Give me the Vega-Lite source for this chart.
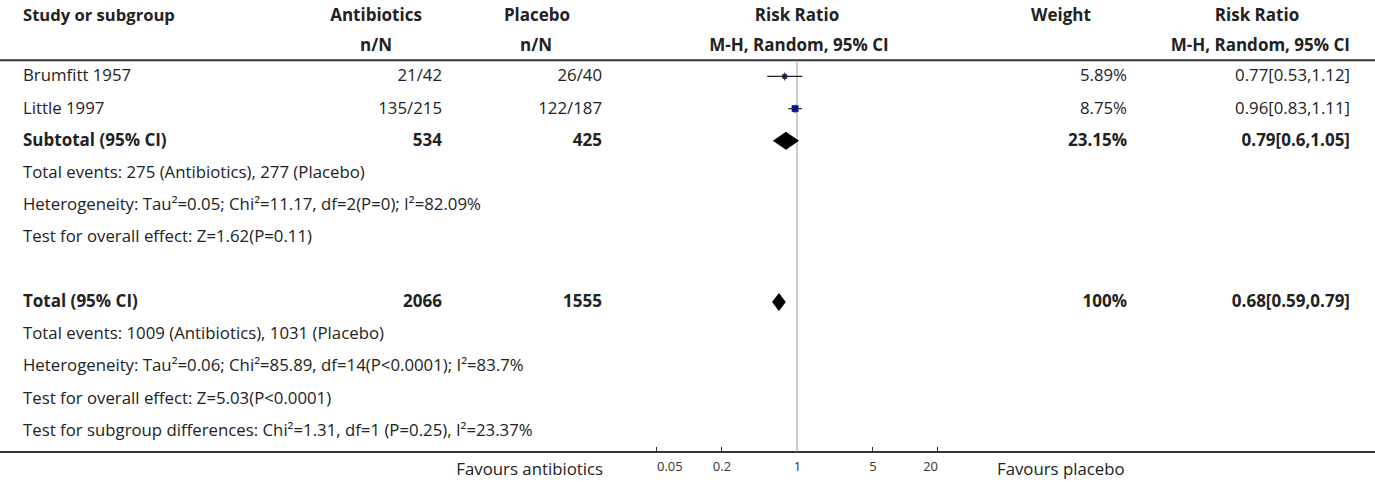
{
  "$schema": "https://vega.github.io/schema/vega-lite/v6.json",
  "width": 1375,
  "height": 452,
  "autosize": {"type": "none"},
  "padding": {"left": 0, "top": 0, "right": 0, "bottom": 30},
  "background": "white",
  "config": {
    "view": {"stroke": null},
    "text": {"font": "Open Sans", "fontSize": 16.8, "color": "#222", "baseline": "middle"}
  },
  "datasets": {
    "table": [
      {"row": 0, "col": 0, "kind": "head", "text": "Study or subgroup"},
      {"row": 0, "col": 1, "kind": "head", "text": "Antibiotics"},
      {"row": 0, "col": 2, "kind": "head", "text": "Placebo"},
      {"row": 0, "col": 3, "kind": "head", "text": "Risk Ratio"},
      {"row": 0, "col": 4, "kind": "head", "text": "Weight"},
      {"row": 0, "col": 5, "kind": "head", "text": "Risk Ratio"},
      {"row": 1, "col": 1, "kind": "sub", "text": "n/N"},
      {"row": 1, "col": 2, "kind": "sub", "text": "n/N"},
      {"row": 1, "col": 3, "kind": "sub", "text": "M-H, Random, 95% CI"},
      {"row": 1, "col": 5, "kind": "sub", "text": "M-H, Random, 95% CI"},
      {"row": 2, "col": 0, "kind": "study", "text": "Brumfitt 1957"},
      {"row": 2, "col": 1, "kind": "study", "text": "21/42"},
      {"row": 2, "col": 2, "kind": "study", "text": "26/40"},
      {"row": 2, "col": 4, "kind": "study", "text": "5.89%"},
      {"row": 2, "col": 5, "kind": "study", "text": "0.77[0.53,1.12]"},
      {"row": 3, "col": 0, "kind": "study", "text": "Little 1997"},
      {"row": 3, "col": 1, "kind": "study", "text": "135/215"},
      {"row": 3, "col": 2, "kind": "study", "text": "122/187"},
      {"row": 3, "col": 4, "kind": "study", "text": "8.75%"},
      {"row": 3, "col": 5, "kind": "study", "text": "0.96[0.83,1.11]"},
      {"row": 4, "col": 0, "kind": "pooled", "text": "Subtotal (95% CI)"},
      {"row": 4, "col": 1, "kind": "pooled", "text": "534"},
      {"row": 4, "col": 2, "kind": "pooled", "text": "425"},
      {"row": 4, "col": 4, "kind": "pooled", "text": "23.15%"},
      {"row": 4, "col": 5, "kind": "pooled", "text": "0.79[0.6,1.05]"},
      {"row": 5, "col": 0, "kind": "note", "text": "Total events: 275 (Antibiotics), 277 (Placebo)"},
      {"row": 6, "col": 0, "kind": "note", "text": "Heterogeneity: Tau²=0.05; Chi²=11.17, df=2(P=0); I²=82.09%"},
      {"row": 7, "col": 0, "kind": "note", "text": "Test for overall effect: Z=1.62(P=0.11)"},
      {"row": 9, "col": 0, "kind": "pooled", "text": "Total (95% CI)"},
      {"row": 9, "col": 1, "kind": "pooled", "text": "2066"},
      {"row": 9, "col": 2, "kind": "pooled", "text": "1555"},
      {"row": 9, "col": 4, "kind": "pooled", "text": "100%"},
      {"row": 9, "col": 5, "kind": "pooled", "text": "0.68[0.59,0.79]"},
      {"row": 10, "col": 0, "kind": "note", "text": "Total events: 1009 (Antibiotics), 1031 (Placebo)"},
      {"row": 11, "col": 0, "kind": "note", "text": "Heterogeneity: Tau²=0.06; Chi²=85.89, df=14(P<0.0001); I²=83.7%"},
      {"row": 12, "col": 0, "kind": "note", "text": "Test for overall effect: Z=5.03(P<0.0001)"},
      {"row": 13, "col": 0, "kind": "note", "text": "Test for subgroup differences: Chi²=1.31, df=1 (P=0.25), I²=23.37%"},
      {"row": 14, "col": 1, "kind": "favours", "text": "Favours antibiotics"},
      {"row": 14, "col": 2, "kind": "favours", "text": "Favours placebo"}
    ],
    "studies": [
      {"row": 2, "study": "Brumfitt 1957", "rr": 0.77, "lo": 0.53, "hi": 1.12, "w": 5.89},
      {"row": 3, "study": "Little 1997", "rr": 0.96, "lo": 0.83, "hi": 1.11, "w": 8.75}
    ],
    "pooled": [
      {"row": 4, "kind": "subtotal", "rr": 0.79, "lo": 0.6, "hi": 1.05},
      {"row": 9, "kind": "total", "rr": 0.68, "lo": 0.59, "hi": 0.79}
    ],
    "ticks": [{"v": 0.05}, {"v": 0.2}, {"v": 5}, {"v": 20}]
  },
  "resolve": {"scale": {"x": "independent"}},
  "layer": [
    {
      "data": {"values": [{}]},
      "layer": [
        {"mark": {"type": "rule", "color": "#333", "strokeWidth": 2},
         "encoding": {"y": {"datum": 1.5, "type": "quantitative", "scale": {"domain": [-0.3727, 13.66], "reverse": true, "nice": false, "zero": false}, "axis": null}}},
        {"mark": {"type": "rule", "color": "#333", "strokeWidth": 2},
         "encoding": {"y": {"datum": 13.66, "type": "quantitative", "scale": {"domain": [-0.3727, 13.66], "reverse": true, "nice": false, "zero": false}, "axis": null}}}
      ]
    },
    {
      "data": {"name": "table"},
      "transform": [{"filter": "datum.col == 0 && (datum.kind == 'study' || datum.kind == 'note')"}],
      "mark": {"type": "text", "align": "left"},
      "encoding": {
        "x": {"field": "col", "type": "quantitative", "scale": {"domain": [0, 1], "range": [23, 1375], "nice": false, "zero": false}, "axis": null},
        "y": {"field": "row", "type": "quantitative", "scale": {"domain": [-0.3727, 13.66], "reverse": true, "nice": false, "zero": false}, "axis": null},
        "text": {"field": "text"}
      }
    },
    {
      "data": {"name": "table"},
      "transform": [{"filter": "datum.col == 0 && datum.kind == 'pooled'"}],
      "mark": {"type": "text", "align": "left", "fontWeight": "bold", "fontSize": 17},
      "encoding": {
        "x": {"field": "col", "type": "quantitative", "scale": {"domain": [0, 1], "range": [23, 1375], "nice": false, "zero": false}, "axis": null},
        "y": {"field": "row", "type": "quantitative", "scale": {"domain": [-0.3727, 13.66], "reverse": true, "nice": false, "zero": false}, "axis": null},
        "text": {"field": "text"}
      }
    },
    {
      "data": {"name": "table"},
      "transform": [{"filter": "datum.col == 0 && datum.kind == 'head'"}],
      "mark": {"type": "text", "align": "left", "fontWeight": "bold", "fontSize": 16.6, "dy": 4},
      "encoding": {
        "x": {"field": "col", "type": "quantitative", "scale": {"domain": [0, 1], "range": [23, 1375], "nice": false, "zero": false}, "axis": null},
        "y": {"field": "row", "type": "quantitative", "scale": {"domain": [-0.3727, 13.66], "reverse": true, "nice": false, "zero": false}, "axis": null},
        "text": {"field": "text"}
      }
    },
    {
      "data": {"name": "table"},
      "transform": [{"filter": "datum.col > 0 && datum.kind == 'study'"}],
      "mark": {"type": "text", "align": "right"},
      "encoding": {
        "x": {"field": "col", "type": "quantitative", "scale": {"domain": [1, 2, 4, 5], "range": [442, 602, 1127, 1350], "nice": false, "zero": false}, "axis": null},
        "y": {"field": "row", "type": "quantitative", "scale": {"domain": [-0.3727, 13.66], "reverse": true, "nice": false, "zero": false}, "axis": null},
        "text": {"field": "text"}
      }
    },
    {
      "data": {"name": "table"},
      "transform": [{"filter": "datum.col > 0 && datum.kind == 'pooled'"}],
      "mark": {"type": "text", "align": "right", "fontWeight": "bold", "fontSize": 17},
      "encoding": {
        "x": {"field": "col", "type": "quantitative", "scale": {"domain": [1, 2, 4, 5], "range": [442, 602, 1127, 1350], "nice": false, "zero": false}, "axis": null},
        "y": {"field": "row", "type": "quantitative", "scale": {"domain": [-0.3727, 13.66], "reverse": true, "nice": false, "zero": false}, "axis": null},
        "text": {"field": "text"}
      }
    },
    {
      "data": {"name": "table"},
      "transform": [{"filter": "datum.col > 0 && datum.kind == 'head'"}],
      "mark": {"type": "text", "align": "center", "fontWeight": "bold", "fontSize": 17, "dy": 4},
      "encoding": {
        "x": {"field": "col", "type": "quantitative", "scale": {"domain": [1, 2, 3, 4, 5], "range": [376, 537, 797, 1061, 1257], "nice": false, "zero": false}, "axis": null},
        "y": {"field": "row", "type": "quantitative", "scale": {"domain": [-0.3727, 13.66], "reverse": true, "nice": false, "zero": false}, "axis": null},
        "text": {"field": "text"}
      }
    },
    {
      "data": {"name": "table"},
      "transform": [{"filter": "datum.col < 5 && datum.kind == 'sub'"}],
      "mark": {"type": "text", "align": "center", "fontWeight": "bold", "fontSize": 17, "dy": 2},
      "encoding": {
        "x": {"field": "col", "type": "quantitative", "scale": {"domain": [1, 2, 3], "range": [376, 536, 799], "nice": false, "zero": false}, "axis": null},
        "y": {"field": "row", "type": "quantitative", "scale": {"domain": [-0.3727, 13.66], "reverse": true, "nice": false, "zero": false}, "axis": null},
        "text": {"field": "text"}
      }
    },
    {
      "data": {"name": "table"},
      "transform": [{"filter": "datum.col == 5 && datum.kind == 'sub'"}],
      "mark": {"type": "text", "align": "right", "fontWeight": "bold", "fontSize": 17, "dy": 2},
      "encoding": {
        "x": {"field": "col", "type": "quantitative", "scale": {"domain": [5, 6], "range": [1350, 1400], "nice": false, "zero": false}, "axis": null},
        "y": {"field": "row", "type": "quantitative", "scale": {"domain": [-0.3727, 13.66], "reverse": true, "nice": false, "zero": false}, "axis": null},
        "text": {"field": "text"}
      }
    },
    {
      "data": {"name": "table"},
      "transform": [{"filter": "datum.col == 1 && datum.kind == 'favours'"}],
      "mark": {"type": "text", "align": "right", "dy": 7},
      "encoding": {
        "x": {"field": "col", "type": "quantitative", "scale": {"domain": [1, 2], "range": [603, 700], "nice": false, "zero": false}, "axis": null},
        "y": {"field": "row", "type": "quantitative", "scale": {"domain": [-0.3727, 13.66], "reverse": true, "nice": false, "zero": false}, "axis": null},
        "text": {"field": "text"}
      }
    },
    {
      "data": {"name": "table"},
      "transform": [{"filter": "datum.col == 2 && datum.kind == 'favours'"}],
      "mark": {"type": "text", "align": "left", "dy": 7},
      "encoding": {
        "x": {"field": "col", "type": "quantitative", "scale": {"domain": [2, 3], "range": [997, 1100], "nice": false, "zero": false}, "axis": null},
        "y": {"field": "row", "type": "quantitative", "scale": {"domain": [-0.3727, 13.66], "reverse": true, "nice": false, "zero": false}, "axis": null},
        "text": {"field": "text"}
      }
    },
    {
      "layer": [
        {
          "data": {"values": [{}]},
          "mark": {"type": "rule", "color": "#999", "strokeWidth": 1},
          "encoding": {
            "x": {"datum": 1, "type": "quantitative", "scale": {"type": "log", "domain": [4.1729e-8, 224780], "nice": false},
                  "axis": {"values": [0.05, 0.2, 1, 5, 20], "format": "~g", "domain": false, "ticks": false, "grid": false, "title": null, "labelFont": "Open Sans", "labelFontSize": 13, "labelColor": "#333", "labelPadding": 8,
                           "labelAlign": {"expr": "datum.value <= 0.05 ? 'left' : datum.value >= 20 ? 'right' : 'center'"}}},
            "y": {"datum": 1.5, "type": "quantitative", "scale": {"domain": [-0.3727, 13.66], "reverse": true, "nice": false, "zero": false}, "axis": null},
            "y2": {"datum": 13.66}
          }
        },
        {
          "data": {"name": "ticks"},
          "mark": {"type": "rule", "color": "#333", "strokeWidth": 1},
          "encoding": {
            "x": {"field": "v", "type": "quantitative"},
            "y": {"datum": 13.66, "type": "quantitative", "scale": {"domain": [-0.3727, 13.66], "reverse": true, "nice": false, "zero": false}, "axis": null},
            "y2": {"datum": 13.5}
          }
        },
        {
          "data": {"name": "studies"},
          "mark": {"type": "point", "shape": "square", "filled": true, "color": "#0000e6", "stroke": "#222", "strokeWidth": 0.5, "opacity": 1},
          "encoding": {
            "x": {"field": "rr", "type": "quantitative"},
            "y": {"field": "row", "type": "quantitative", "scale": {"domain": [-0.3727, 13.66], "reverse": true, "nice": false, "zero": false}, "axis": null},
            "size": {"field": "w", "type": "quantitative", "scale": {"type": "pow", "exponent": 2, "domain": [0, 8.75], "range": [0, 40]}, "legend": null}
          }
        },
        {
          "data": {"name": "studies"},
          "mark": {"type": "rule", "color": "#222", "strokeWidth": 1.2},
          "encoding": {
            "x": {"field": "lo", "type": "quantitative"},
            "x2": {"field": "hi"},
            "y": {"field": "row", "type": "quantitative", "scale": {"domain": [-0.3727, 13.66], "reverse": true, "nice": false, "zero": false}, "axis": null}
          }
        },
        {
          "data": {"name": "studies"},
          "mark": {"type": "tick", "orient": "vertical", "size": 8, "thickness": 1, "color": "#222", "opacity": 1},
          "encoding": {
            "x": {"field": "rr", "type": "quantitative"},
            "y": {"field": "row", "type": "quantitative", "scale": {"domain": [-0.3727, 13.66], "reverse": true, "nice": false, "zero": false}, "axis": null}
          }
        },
        {
          "data": {"name": "pooled"},
          "transform": [{"filter": "datum.kind == 'subtotal'"}],
          "mark": {"type": "point", "shape": "M-1,0L0,-0.687L1,0L0,0.687Z", "size": 686, "filled": true, "color": "#000", "opacity": 1},
          "encoding": {
            "x": {"field": "rr", "type": "quantitative"},
            "y": {"field": "row", "type": "quantitative", "scale": {"domain": [-0.3727, 13.66], "reverse": true, "nice": false, "zero": false}, "axis": null}
          }
        },
        {
          "data": {"name": "pooled"},
          "transform": [{"filter": "datum.kind == 'total'"}],
          "mark": {"type": "point", "shape": "M-1,0L0,-1.314L1,0L0,1.314Z", "size": 188, "filled": true, "color": "#000", "opacity": 1},
          "encoding": {
            "x": {"field": "rr", "type": "quantitative"},
            "y": {"field": "row", "type": "quantitative", "scale": {"domain": [-0.3727, 13.66], "reverse": true, "nice": false, "zero": false}, "axis": null}
          }
        }
      ]
    }
  ]
}
